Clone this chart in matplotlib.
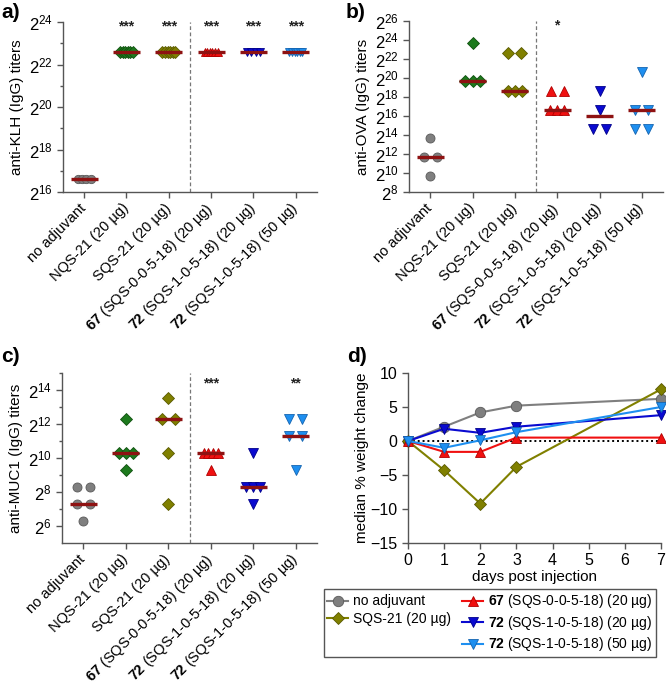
import numpy as np
import matplotlib
matplotlib.use("Agg")
import matplotlib.pyplot as plt
from matplotlib.lines import Line2D
from matplotlib.ticker import FixedLocator

plt.rcParams['font.family'] = ['Liberation Sans', 'DejaVu Sans']
plt.rcParams['mathtext.fontset'] = 'custom'
plt.rcParams['mathtext.rm'] = 'Liberation Sans'
plt.rcParams['mathtext.it'] = 'Liberation Sans:italic'
plt.rcParams['mathtext.bf'] = 'Liberation Sans:bold'

# ---------------- data ----------------
group_ids = ["", "", "", "67", "72", "72"]
group_names = ["no adjuvant", "NQS-21 (20 µg)", "SQS-21 (20 µg)",
               "(SQS-0-0-5-18) (20 µg)", "(SQS-1-0-5-18) (20 µg)", "(SQS-1-0-5-18) (50 µg)"]
group_colors = ["#7f7f7f", "#1d7a1d", "#808000", "#f01010", "#0a0ad0", "#1e8ff0"]
group_edges = ["#5a5a5a", "#0f500f", "#5a5a00", "#b00000", "#00008a", "#1565b0"]
group_markers = ["o", "D", "D", "^", "v", "v"]

# log2 titers per mouse
klh_log2 = [
    [16.61, 16.61, 16.61, 16.61],
    [22.61, 22.61, 22.61, 22.61, 22.61, 22.61],
    [22.61, 22.61, 22.61, 22.61, 22.61, 22.61],
    [22.61, 22.61, 22.61, 22.61, 22.61, 22.61],
    [22.61, 22.61, 22.61, 22.61],
    [22.61, 22.61, 22.61, 22.61, 22.61, 22.61],
]
ova_log2 = [
    [13.64, 11.64, 11.64, 9.64],
    [23.64, 19.64, 19.64, 19.64],
    [22.64, 22.64, 18.64, 18.64, 18.64],
    [18.64, 18.64, 16.64, 16.64, 16.64],
    [18.64, 16.64, 14.64, 14.64],
    [20.64, 16.64, 16.64, 14.64, 14.64],
]
muc1_log2 = [
    [8.32, 8.32, 7.32, 7.32, 6.32],
    [12.32, 10.32, 10.32, 10.32, 9.32],
    [13.52, 12.32, 12.32, 10.32, 7.32],
    [10.32, 10.32, 10.32, 10.32, 9.32],
    [10.32, 8.32, 8.32, 8.32, 7.32],
    [12.32, 12.32, 11.32, 11.32, 9.32],
]
klh_stars = ["", "***", "***", "***", "***", "***"]
ova_stars = ["", "", "", "*", "", ""]
muc1_stars = ["", "", "", "***", "", "**"]

days = [0, 1, 2, 3, 7]
weight_series = [
    [0.0, 2.1, 4.2, 5.2, 6.2],      # no adjuvant
    [0.0, -4.3, -9.2, -3.8, 7.6],   # SQS-21
    [0.0, -1.6, -1.6, 0.5, 0.5],    # 67 (20)
    [0.0, 1.8, 1.2, 2.1, 3.8],      # 72 (20)
    [0.0, -1.0, 0.1, 1.3, 5.0],     # 72 (50)
]
weight_group_index = [0, 2, 3, 4, 5]

# ---------------- helpers ----------------
def tick_label(i):
    if group_ids[i]:
        return r"$\mathbf{" + group_ids[i] + "}$ " + group_names[i]
    return group_names[i]


def offsets(vals, width):
    vals = np.asarray(vals)
    off = np.zeros(len(vals))
    for v in np.unique(vals):
        idx = np.where(vals == v)[0]
        n = len(idx)
        if n == 1:
            o = [0.0]
        elif n == 2:
            o = [-0.15, 0.15]
        else:
            o = np.linspace(-width / 2, width / 2, n)
        off[idx] = o
    return off


def style_axes(ax):
    for s in ['top', 'right']:
        ax.spines[s].set_visible(False)
    for s in ['left', 'bottom']:
        ax.spines[s].set_color('#555555')
        ax.spines[s].set_linewidth(1.0)
    ax.tick_params(axis='both', which='both', colors='#555555', labelcolor='black',
                   direction='out', width=1.0)
    ax.tick_params(axis='both', which='major', length=4, labelsize=10.5)
    ax.tick_params(axis='both', which='minor', length=2.5)


def scatter_panel(ax, data, stars, ylim, yticks, minor, ylabel, msize, width, star_y):
    for i, vals in enumerate(data):
        x = i + offsets(vals, width)
        ax.plot(x, vals, linestyle='none', marker=group_markers[i], markersize=msize,
                markerfacecolor=group_colors[i], markeredgecolor=group_edges[i],
                markeredgewidth=0.6, clip_on=False, zorder=3)
        med = np.log2(np.median(2.0 ** np.asarray(vals)))
        ax.plot([i - 0.32, i + 0.32], [med, med], color='#8e1212', lw=2.4,
                solid_capstyle='butt', zorder=4)
        if stars[i]:
            ax.text(i, star_y, stars[i], ha='center', va='center', fontsize=10,
                    fontweight='bold', color='#222222')
    ax.axvline(2.5, color='#777777', lw=0.9, ls=(0, (3, 2)), zorder=1)
    ax.set_xlim(-0.5, 5.5)
    ax.set_ylim(*ylim)
    ax.set_yticks(yticks)
    ax.set_yticklabels([r"$2^{%d}$" % t for t in yticks])
    if minor:
        ax.yaxis.set_minor_locator(FixedLocator(minor))
    ax.set_xticks(range(len(data)))
    ax.set_xticklabels([tick_label(i) for i in range(len(data))], rotation=45,
                       ha='right', va='center', rotation_mode='anchor', fontsize=10.5)
    ax.tick_params(axis='x', pad=6)
    ax.set_ylabel(ylabel, fontsize=11, labelpad=3)
    style_axes(ax)
    ax.tick_params(axis='y', labelsize=12)


# ---------------- figure ----------------
W, H = 666, 687
fig = plt.figure(figsize=(W / 100, H / 100), dpi=100)

def px_axes(l, t, r, b):
    return fig.add_axes([l / W, 1 - b / H, (r - l) / W, (b - t) / H])

ax_a = px_axes(63, 22, 317, 192)
ax_b = px_axes(409, 21, 663, 192)
ax_c = px_axes(62, 373, 317, 543)
ax_d = px_axes(408, 373, 661, 543)

scatter_panel(ax_a, klh_log2, klh_stars, (16, 24), [16, 18, 20, 22, 24],
              [17, 19, 21, 23], "anti-KLH (IgG) titers", 6.0, 0.30, 23.8)
scatter_panel(ax_b, ova_log2, ova_stars, (8, 26), list(range(8, 27, 2)),
              None, "anti-OVA (IgG) titers", 6.5, 0.34, 25.5)
scatter_panel(ax_c, muc1_log2, muc1_stars, (5, 15), [6, 8, 10, 12, 14],
              [7, 9, 11, 13, 15], "anti-MUC1 (IgG) titers", 6.5, 0.34, 14.4)

# panel d
handles = []
for s, gi in zip(weight_series, weight_group_index):
    line, = ax_d.plot(days, s, color=group_colors[gi], lw=1.5, marker=group_markers[gi],
                      markersize=7.5 if group_markers[gi] != 'D' else 6.5,
                      markerfacecolor=group_colors[gi], markeredgecolor=group_edges[gi],
                      markeredgewidth=0.6, clip_on=False, zorder=3)
    handles.append(line)
ax_d.plot([0, 7], [0, 0], color='black', lw=1.4, ls=(0, (1, 1.5)), zorder=2)
ax_d.set_xlim(0, 7)
ax_d.set_ylim(-15, 10)
ax_d.set_xticks(range(0, 8))
ax_d.set_yticks([-15, -10, -5, 0, 5, 10])
ax_d.set_xlabel("days post injection", fontsize=11, labelpad=1)
ax_d.set_ylabel("median % weight change", fontsize=11, labelpad=1)
style_axes(ax_d)
ax_d.tick_params(axis='both', labelsize=11.5)

# legend
blank = Line2D([], [], linestyle='none', marker=None)
leg_handles = [handles[0], handles[1], blank, handles[2], handles[3], handles[4]]
leg_labels = [tick_label(0), tick_label(2), " ",
              tick_label(3), tick_label(4), tick_label(5)]
leg = fig.legend(leg_handles, leg_labels, ncol=2, loc='upper left',
                 bbox_to_anchor=(324 / W, 1 - 589 / H), fontsize=10,
                 fancybox=False, edgecolor='#555555', framealpha=1,
                 handlelength=1.5, handletextpad=0.35, columnspacing=0.8,
                 labelspacing=0.25, borderpad=0.25, borderaxespad=0)
leg.get_frame().set_linewidth(1.0)

# panel letters
for lbl, (x, y) in zip(["a)", "b)", "c)", "d)"], [(1, 3), (346, 3), (1, 347), (347, 347)]):
    fig.text(x / W, 1 - y / H, lbl, fontsize=15, fontweight='bold', ha='left', va='top')

fig.savefig("out.png", dpi=100)
